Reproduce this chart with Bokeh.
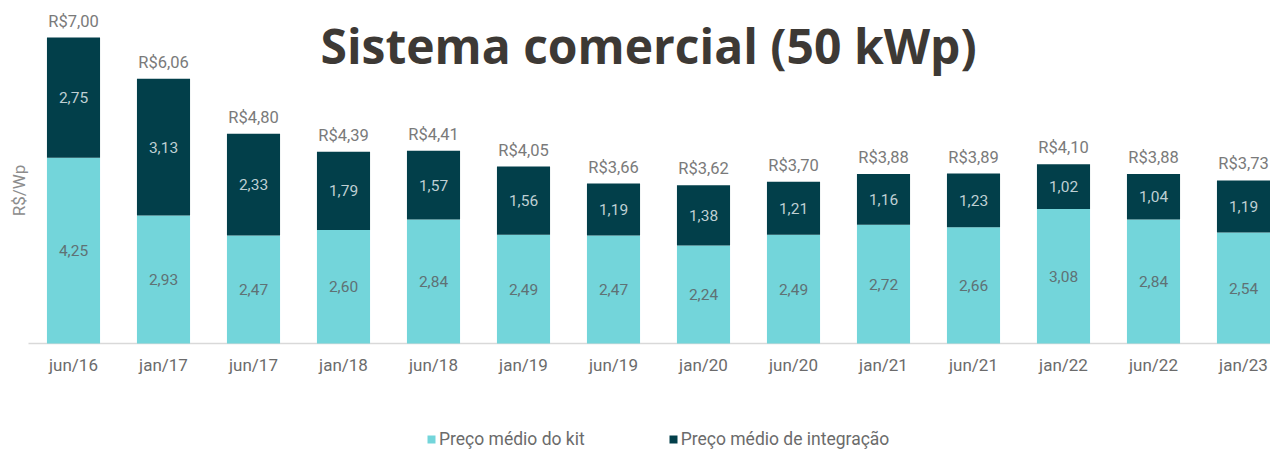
import math
from bokeh.plotting import figure
from bokeh.models import ColumnDataSource, Label, Legend, LegendItem, Range1d
from bokeh.core.properties import value
from bokeh.embed import file_html
from bokeh.resources import INLINE

categories = ["jun/16", "jan/17", "jun/17", "jan/18", "jun/18", "jan/19", "jun/19",
              "jan/20", "jun/20", "jan/21", "jun/21", "jan/22", "jun/22", "jan/23"]
kit = [4.25, 2.93, 2.47, 2.60, 2.84, 2.49, 2.47, 2.24, 2.49, 2.72, 2.66, 3.08, 2.84, 2.54]
integ = [2.75, 3.13, 2.33, 1.79, 1.57, 1.56, 1.19, 1.38, 1.21, 1.16, 1.23, 1.02, 1.04, 1.19]
totals = [7.00, 6.06, 4.80, 4.39, 4.41, 4.05, 3.66, 3.62, 3.70, 3.88, 3.89, 4.10, 3.88, 3.73]

KIT_C = "#73D5DA"
INT_C = "#023F4A"
FONT = "Roboto"

def br(v):
    return f"{v:.2f}".replace(".", ",")

xs = list(range(len(categories)))
src = ColumnDataSource(dict(
    x=xs, cat=categories, kit=kit, integ=integ, total=totals,
    zero=[0] * len(xs),
    kit_mid=[k / 2 for k in kit],
    int_mid=[k + i / 2 for k, i in zip(kit, integ)],
    kit_lbl=[br(v) for v in kit],
    int_lbl=[br(v) for v in integ],
    tot_lbl=["R$" + br(v) for v in totals],
))

W, H = 1270, 450
PX = 43.7          # pixels per R$/Wp
STEP = 90          # pixels per category
LEFT = 28          # left edge of the category area
BASE = 343         # baseline pixel row
x0 = -0.5 - LEFT / STEP
x1 = -0.5 + (W - LEFT) / STEP
p = figure(width=W, height=H, output_backend="svg", toolbar_location=None,
           x_range=Range1d(x0, x1), y_range=Range1d(-(H - BASE) / PX, BASE / PX),
           min_border=0)
p.outline_line_color = None
p.grid.visible = False
p.axis.visible = False
p.background_fill_color = "white"
p.border_fill_color = "white"

# baseline (x axis line)
p.segment(x0=-0.5, x1=x1, y0=0, y1=0, line_color="#d9d9d9", line_width=1.5)

rs = p.vbar_stack(["kit", "integ"], x="x", width=0.59, color=[KIT_C, INT_C],
                  line_color=None, source=src)

p.text(x="x", y="kit_mid", text="kit_lbl", source=src, text_align="center",
       text_baseline="middle", text_font=value(FONT), text_font_size="15.5px",
       text_color="#5f7174")
p.text(x="x", y="int_mid", text="int_lbl", source=src, text_align="center",
       text_baseline="middle", text_font=value(FONT), text_font_size="15.5px",
       text_color="#bfcfd3")
p.text(x="x", y="total", text="tot_lbl", source=src, text_align="center",
       text_baseline="bottom", y_offset=-7, text_font=value(FONT),
       text_font_size="16.5px", text_color="#7a7a7a")

# category labels
p.text(x="x", y="zero", text="cat", source=src, text_align="center",
       text_baseline="middle", y_offset=21, text_font=value(FONT),
       text_font_size="17px", text_color="#6b6b6b")

ylab = Label(x=-0.611, y=(BASE - 190) / PX, text="R$/Wp", angle=math.pi / 2,
             text_align="center", text_baseline="middle", text_font=FONT,
             text_font_size="17px", text_color="#8c8c8c")
p.add_layout(ylab)

title = Label(x=6.39, y=6.82, text="Sistema comercial (50 kWp)", text_align="center",
              text_baseline="middle", text_font="Open Sans", text_font_style="bold",
              text_font_size="48px", text_color="#3d3935")
p.add_layout(title)

legend = Legend(items=[LegendItem(label="Preço médio do kit", renderers=[rs[0]]),
                       LegendItem(label="Preço médio de integração", renderers=[rs[1]])],
                location=(426, 1), orientation="horizontal", spacing=83,
                glyph_width=10, glyph_height=10, label_height=16, label_standoff=3,
                padding=0, margin=0,
                label_text_font=FONT, label_text_font_size="17.5px",
                label_text_color="#6b6b6b", background_fill_alpha=0,
                border_line_color=None)
p.add_layout(legend)

open("out.html", "w").write(file_html(p, INLINE))
